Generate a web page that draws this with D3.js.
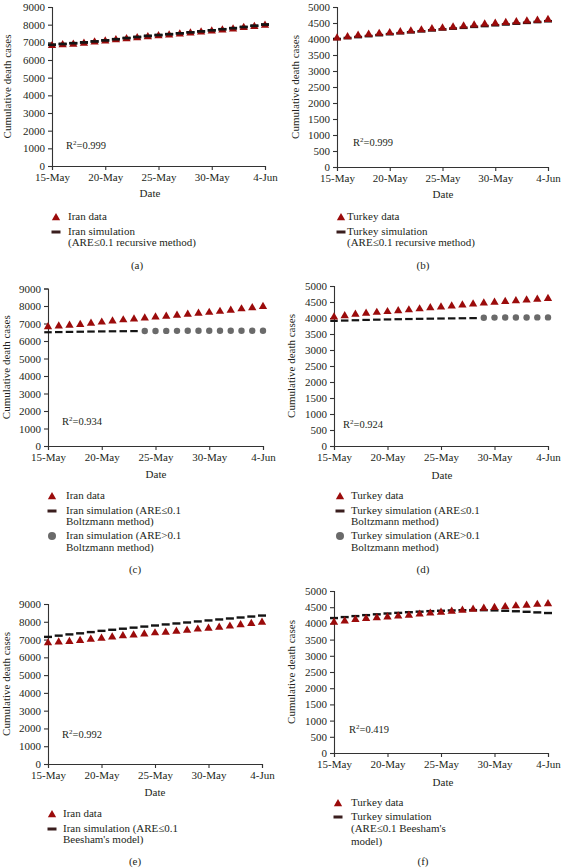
<!DOCTYPE html>
<html><head><meta charset="utf-8">
<script src="https://cdn.jsdelivr.net/npm/d3@7"></script>
<style>
body{margin:0;background:#fff;}
svg{display:block;font-family:"Liberation Serif","Times New Roman",serif;}
text{fill:#231f20;}
</style></head><body>
<svg id="c" width="561" height="868"></svg>
<script>
// ---------- data ----------
const dates = ["2020-05-15","2020-05-16","2020-05-17","2020-05-18","2020-05-19","2020-05-20","2020-05-21",
  "2020-05-22","2020-05-23","2020-05-24","2020-05-25","2020-05-26","2020-05-27","2020-05-28",
  "2020-05-29","2020-05-30","2020-05-31","2020-06-01","2020-06-02","2020-06-03","2020-06-04"];
const xTickDates = ["2020-05-15","2020-05-20","2020-05-25","2020-05-30","2020-06-04"];
const iranTicks = [0,1000,2000,3000,4000,5000,6000,7000,8000,9000];
const turkeyTicks = [0,500,1000,1500,2000,2500,3000,3500,4000,4500,5000];

const iranData = [6854,6902,6937,6988,7057,7119,7183,7249,7300,7359,7417,7451,7508,7564,7627,7677,7734,7797,7878,7942,8012];
const turkeyData = [4055,4096,4140,4171,4199,4222,4249,4276,4308,4340,4369,4397,4431,4461,4489,4515,4540,4563,4585,4609,4630];

const iranRecursive = [6860,6905,6950,6995,7050,7110,7175,7240,7300,7360,7410,7460,7510,7565,7620,7680,7740,7800,7865,7935,8005];
const turkeyRecursive = [4000,4030,4060,4090,4120,4150,4180,4210,4240,4270,4300,4325,4350,4380,4405,4430,4455,4480,4505,4530,4555];

// Boltzmann: ARE<=0.1 part (dashes) then ARE>0.1 part (circles)
const iranBoltzLow = [6500,6510,6520,6530,6540,6548,6555,6560,6565];
const iranBoltzHigh = [6570,6575,6578,6580,6582,6584,6585,6586,6587,6588,6588,6589];
const turkeyBoltzLow = [3910,3920,3930,3940,3948,3955,3962,3968,3974,3979,3984,3988,3992,3996];
const turkeyBoltzHigh = [4010,4012,4014,4016,4017,4018,4019];

const iranBeesham = [7150,7220,7290,7350,7420,7490,7550,7610,7670,7730,7790,7850,7905,7960,8020,8075,8130,8185,8240,8295,8350];
const turkeyBeesham = [4165,4195,4225,4255,4280,4305,4325,4345,4362,4378,4390,4400,4407,4410,4408,4402,4390,4375,4358,4340,4320];

const r2Labels = ["0.999","0.999","0.934","0.924","0.992","0.419"];

// ---------- drawing ----------
const svg = d3.select("#c");
const parse = d3.timeParse("%Y-%m-%d");
const fmt = d3.timeFormat("%-d-%b");
const RED = "#9b0b0b", BLK = "#141414", GRAY = "#6a6a6a";

function triangle(g, x, y){
  g.append("path").attr("d", d3.symbol(d3.symbolTriangle, 30)()).attr("transform",`translate(${x},${y+0.8})`).attr("fill",RED);
}
function dash(g, x, y, w, h){
  g.append("rect").attr("x",x-w/2).attr("y",y-h/2).attr("width",w).attr("height",h).attr("fill",BLK);
}

function panel(cfg){
  const g = svg.append("g");
  const x = d3.scaleTime().domain([parse(dates[0]), parse(dates[dates.length-1])]).range([cfg.x0, cfg.x1]);
  const y = d3.scaleLinear().domain([0, cfg.ticks[cfg.ticks.length-1]]).range([cfg.y0, cfg.yTop]);

  const ya = g.append("g").attr("transform",`translate(${cfg.x0},0)`)
    .call(d3.axisLeft(y).tickValues(cfg.ticks).tickSize(4).tickPadding(3).tickFormat(d3.format("d")));
  const xa = g.append("g").attr("transform",`translate(0,${cfg.y0})`)
    .call(d3.axisBottom(x).tickValues(xTickDates.map(parse)).tickSize(4).tickPadding(3).tickFormat(fmt));
  [ya,xa].forEach(a=>{
    a.selectAll("path").attr("stroke","#333").attr("stroke-width",1.1);
    a.selectAll("line").attr("stroke","#333").attr("stroke-width",1.1);
    a.selectAll("text").attr("font-size",11).attr("font-family","Liberation Serif").attr("fill","#231f20");
  });

  g.append("text").attr("transform",`translate(${cfg.titleX},${(cfg.y0+cfg.yTop)/2}) rotate(-90)`)
    .attr("text-anchor","middle").attr("dominant-baseline","middle").attr("font-size",11).text("Cumulative death cases");
  g.append("text").attr("x",cfg.dateX).attr("y",cfg.dateY).attr("text-anchor","middle").attr("dominant-baseline","middle")
    .attr("font-size",11).text("Date");

  const r2 = g.append("text").attr("x",cfg.r2x).attr("y",cfg.r2y).attr("dominant-baseline","middle").attr("font-size",10.5);
  r2.append("tspan").text("R");
  r2.append("tspan").attr("font-size",7).attr("dy",-4).text("2");
  r2.append("tspan").attr("dy",4).text("=" + cfg.r2);

  // simulation dashes & circles
  cfg.sim.forEach(s=>{
    s.values.forEach((v,i)=>{
      const d = parse(dates[s.start+i]);
      if(s.kind==="dash") dash(g, x(d), y(v), cfg.dashW, cfg.dashH);
      else g.append("circle").attr("cx",x(d)).attr("cy",y(v)).attr("r",3.2).attr("fill",GRAY);
    });
  });
  // data triangles
  cfg.data.forEach((v,i)=>{ triangle(g, x(parse(dates[i])), y(v)); });
  if(cfg.dashOnTop){
    cfg.sim.forEach(s=>{ if(s.kind==="dash") s.values.forEach((v,i)=>dash(g, x(parse(dates[s.start+i])), y(v), cfg.dashW, cfg.dashH)); });
  }

  // legend
  const L = cfg.legend;
  L.items.forEach(it=>{
    if(it.kind==="tri") triangle(g, L.mx, it.y);
    else if(it.kind==="dash") g.append("rect").attr("x",L.mx-4.5).attr("y",it.y-1.5).attr("width",9).attr("height",3).attr("fill","#3a1e1e");
    else g.append("circle").attr("cx",L.mx).attr("cy",it.y).attr("r",4).attr("fill",GRAY);
    it.lines.forEach((t,k)=>{
      g.append("text").attr("x",L.tx).attr("y",it.y + k*it.lh).attr("dominant-baseline","middle").attr("font-size",11).text(t);
    });
  });
  g.append("text").attr("x",L.labX).attr("y",L.labY).attr("text-anchor","middle").attr("dominant-baseline","middle")
    .attr("font-size",11).text(L.lab);
}

panel({x0:52,x1:265,y0:166,yTop:7,ticks:iranTicks,titleX:8,dateX:150,dateY:194,r2x:66,r2y:147,r2:r2Labels[0],
  data:iranData,sim:[{kind:"dash",start:0,values:iranRecursive}],dashW:8,dashH:2.6,dashOnTop:true,
  legend:{mx:56,tx:68,labX:137,labY:266,lab:"(a)",items:[
    {kind:"tri",y:217,lines:["Iran data"],lh:11},
    {kind:"dash",y:232,lines:["Iran simulation","(ARE≤0.1 recursive method)"],lh:11}]}});

panel({x0:337,x1:548,y0:167,yTop:7,ticks:turkeyTicks,titleX:296,dateX:443,dateY:195,r2x:353,r2y:144,r2:r2Labels[1],
  data:turkeyData,sim:[{kind:"dash",start:0,values:turkeyRecursive}],dashW:8,dashH:2.6,dashOnTop:false,
  legend:{mx:341,tx:347,labX:423,labY:266,lab:"(b)",items:[
    {kind:"tri",y:217,lines:["Turkey data"],lh:11},
    {kind:"dash",y:232,lines:["Turkey simulation","(ARE≤0.1 recursive method)"],lh:11}]}});

panel({x0:48,x1:263,y0:446,yTop:288.5,ticks:iranTicks,titleX:7,dateX:156,dateY:475,r2x:62,r2y:423,r2:r2Labels[2],
  data:iranData,sim:[{kind:"dash",start:0,values:iranBoltzLow},{kind:"circle",start:9,values:iranBoltzHigh}],dashW:7.5,dashH:2.2,dashOnTop:false,
  legend:{mx:52,tx:66,labX:135,labY:570,lab:"(c)",items:[
    {kind:"tri",y:496,lines:["Iran data"],lh:11},
    {kind:"dash",y:511,lines:["Iran simulation (ARE≤0.1","Boltzmann method)"],lh:11.5},
    {kind:"circle",y:536,lines:["Iran simulation (ARE>0.1","Boltzmann method)"],lh:12}]}});

panel({x0:334,x1:548,y0:446,yTop:286,ticks:turkeyTicks,titleX:292,dateX:442,dateY:476,r2x:343,r2y:426,r2:r2Labels[3],
  data:turkeyData,sim:[{kind:"dash",start:0,values:turkeyBoltzLow},{kind:"circle",start:14,values:turkeyBoltzHigh}],dashW:7.5,dashH:2.2,dashOnTop:false,
  legend:{mx:340,tx:351,labX:423,labY:570,lab:"(d)",items:[
    {kind:"tri",y:496,lines:["Turkey data"],lh:11},
    {kind:"dash",y:511,lines:["Turkey simulation (ARE≤0.1","Boltzmann method)"],lh:11.5},
    {kind:"circle",y:536,lines:["Turkey simulation (ARE>0.1","Boltzmann method)"],lh:12}]}});

panel({x0:48,x1:262,y0:764,yTop:604,ticks:iranTicks,titleX:7,dateX:155,dateY:793,r2x:62,r2y:736,r2:r2Labels[4],
  data:iranData,sim:[{kind:"dash",start:0,values:iranBeesham}],dashW:8,dashH:2.4,dashOnTop:false,
  legend:{mx:52,tx:63,labX:135,labY:862,lab:"(e)",items:[
    {kind:"tri",y:814,lines:["Iran data"],lh:11},
    {kind:"dash",y:829,lines:["Iran simulation (ARE≤0.1","Beesham's model)"],lh:11.5}]}});

panel({x0:334,x1:548,y0:753,yTop:591,ticks:turkeyTicks,titleX:292,dateX:443,dateY:783,r2x:349,r2y:731,r2:r2Labels[5],
  data:turkeyData,sim:[{kind:"dash",start:0,values:turkeyBeesham}],dashW:8,dashH:2.4,dashOnTop:false,
  legend:{mx:338,tx:351,labX:423,labY:862,lab:"(f)",items:[
    {kind:"tri",y:803,lines:["Turkey data"],lh:11},
    {kind:"dash",y:817,lines:["Turkey simulation","(ARE≤0.1 Beesham's","model)"],lh:12.5}]}});
</script>
</body></html>
